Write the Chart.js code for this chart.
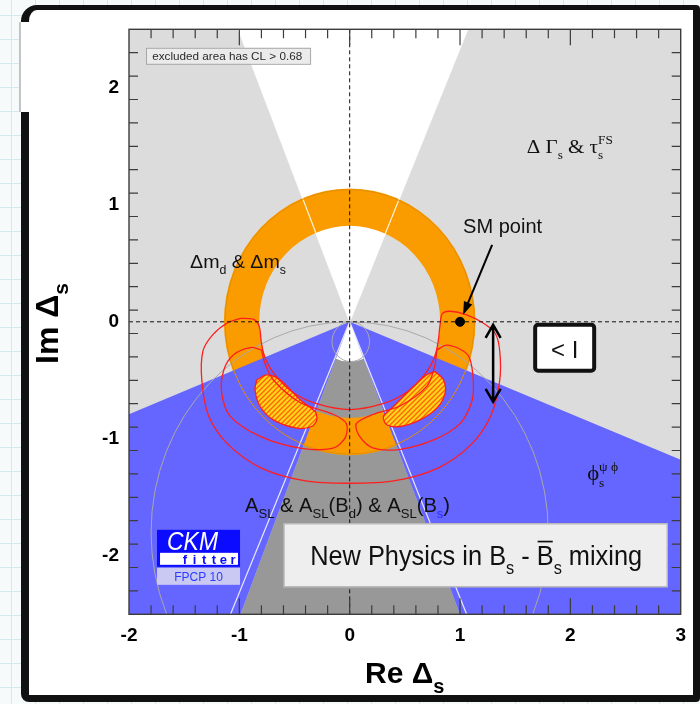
<!DOCTYPE html>
<html>
<head>
<meta charset="utf-8">
<title>New Physics in Bs mixing</title>
<script src="https://cdn.jsdelivr.net/npm/chart.js@4/dist/chart.umd.min.js"></script>
<style>
  html, body { margin: 0; padding: 0; }
  body {
    width: 700px; height: 704px; position: relative; overflow: hidden;
    background-color: #f6fafb;
    background-image: linear-gradient(#d5e8ee 1px, transparent 1px),
                      linear-gradient(90deg, #d5e8ee 1px, transparent 1px);
    background-size: 24px 24px;
    background-position: 0 15px, 11px 0;
  }
  #card {
    position: absolute; left: 21px; top: 5px; width: 664px; height: 685px;
    background: #fff; border-style: solid; border-color: #111;
    border-width: 5px 7px 7px 8px; border-radius: 16px 4px 4px 8px;
  }
  #gap { position: absolute; left: 19px; top: 22px; width: 12px; height: 90px;
         background: #fff; border-left: 2px solid #c4c4c4; }
  canvas { position: absolute; left: 0; top: 0; }
</style>
</head>
<body>
<div id="card"></div>
<div id="gap"></div>
<canvas id="c" width="700" height="704"></canvas>
<script>
// ---- axes ----
const xRange = [-2, 3];
const yRange = [-2.5, 2.5];
const xTickValues = [-2, -1, 0, 1, 2, 3];
const yTickValues = [-2, -1, 0, 1, 2];
const xTickLabels = ['-2', '-1', '0', '1', '2', '3'];
const yTickLabels = ['-2', '-1', '0', '1', '2'];

// ---- constraints (Re, Im) ----
// ΔΓs & τs^FS : allowed double wedge through the origin
const dgWedgeUp = [[0, 0], [-1.01, 2.5], [1.07, 2.5]];
const dgEdges = [[-1.01, 2.5], [1.07, 2.5], [-1.08, -2.5], [1.06, -2.5]];
// A_SL : allowed wedge below the origin, open near the apex
const aslWedge = [[0, 0], [-0.99, -2.5], [1.0, -2.5]];
const aslApex = [[0, 0], [-0.14, -0.31], [-0.07, -0.335], [0, -0.34], [0.07, -0.335], [0.14, -0.31]];
// φs^ψφ : excluded areas
const phiLeft = [[0, 0], [-2, -0.79], [-2, -2.5], [-0.99, -2.5]];
const phiRight = [[0, 0], [1.0, -2.5], [3, -2.5], [3, -1.18]];
// Δm_d & Δm_s : allowed ring
const ringCentre = [0, 0];
const ringRadii = [0.82, 1.14];
const ringEdge = 1.13;
// reference circles
const bigCircle = { c: [0, -1.8], r: 1.8 };
const smallCircle = { c: [0.01, -0.17], r: 0.17 };

// ---- global fit contours ----
const contourOuter = [
  [-0.99, 0.03], [-0.87, 0.02], [-0.82, -0.04], [-0.80, -0.18], [-0.77, -0.30], [-0.68, -0.45],
  [-0.52, -0.60], [-0.30, -0.70], [0, -0.75], [0.30, -0.70], [0.52, -0.60], [0.68, -0.45],
  [0.77, -0.30], [0.80, -0.18], [0.82, -0.02], [0.84, 0.07], [0.91, 0.09], [1.06, 0.06],
  [1.21, -0.01], [1.32, -0.10], [1.36, -0.25], [1.36, -0.50], [1.28, -0.80], [1.10, -1.05],
  [0.80, -1.25], [0.40, -1.36], [0, -1.38], [-0.40, -1.36], [-0.80, -1.25], [-1.10, -1.05],
  [-1.28, -0.80], [-1.34, -0.50], [-1.33, -0.25], [-1.24, -0.11], [-1.11, -0.01]
];
const contourLeft = [
  [-0.80, -0.24], [-0.90, -0.22], [-1.05, -0.28], [-1.14, -0.41], [-1.16, -0.61], [-1.08, -0.81],
  [-0.81, -0.98], [-0.45, -1.08], [-0.15, -1.08], [-0.04, -0.99], [-0.03, -0.87], [-0.15, -0.79],
  [-0.45, -0.69], [-0.69, -0.50], [-0.77, -0.35]
];
const contourRight = [
  [0.79, -0.24], [0.88, -0.20], [1.03, -0.25], [1.09, -0.32], [1.12, -0.50], [1.11, -0.67],
  [1.00, -0.87], [0.76, -1.01], [0.46, -1.09], [0.215, -1.08], [0.09, -0.98], [0.06, -0.87],
  [0.215, -0.79], [0.456, -0.72], [0.70, -0.55], [0.77, -0.38]
];
const blobLeft = [
  [-0.842, -0.496], [-0.752, -0.453], [-0.631, -0.496], [-0.450, -0.667], [-0.314, -0.767],
  [-0.298, -0.838], [-0.344, -0.895], [-0.480, -0.909], [-0.692, -0.838], [-0.812, -0.724],
  [-0.858, -0.581]
];
const blobRight = [
  [0.774, -0.425], [0.850, -0.496], [0.865, -0.609], [0.790, -0.738], [0.638, -0.838],
  [0.457, -0.895], [0.336, -0.880], [0.306, -0.809], [0.396, -0.724], [0.578, -0.553],
  [0.699, -0.453]
];
const smPoint = [1.0, 0.0];

// ---- colours ----
const GREY_LIGHT = '#dcdcdc', GREY_DARK = '#989898', BLUE = '#6565ff',
      ORANGE = '#fa9c00', RED = '#ff1e1e';
const SANS = '"Liberation Sans", Arial, Helvetica, sans-serif';
const SERIF = '"Liberation Serif", "DejaVu Serif", "Times New Roman", serif';

const toPts = a => a.map(([x, y]) => ({ x, y }));
const closed = a => toPts(a.concat([a[0]]));

function tracePoly(ctx, X, Y, pts) {
  ctx.beginPath();
  pts.forEach(([a, b], i) => (i ? ctx.lineTo(X(a), Y(b)) : ctx.moveTo(X(a), Y(b))));
  ctx.closePath();
}

function hatchPattern(ctx) {
  const c = document.createElement('canvas');
  c.width = c.height = 5;
  const g = c.getContext('2d');
  g.fillStyle = '#ffd41c';
  g.fillRect(0, 0, 5, 5);
  g.strokeStyle = '#ff6400';
  g.lineWidth = 1.3;
  g.beginPath();
  g.moveTo(-1, 6); g.lineTo(6, -1);
  g.moveTo(-1, 1); g.lineTo(1, -1);
  g.moveTo(4, 6); g.lineTo(6, 4);
  g.stroke();
  return ctx.createPattern(c, 'repeat');
}

// text with sub/superscripts; parts: [text, kind(0 normal,1 sub,2 sup), colour, keepX, overbar]
function rich(ctx, px, py, parts, o) {
  const subScale = o.subScale || 0.65;
  const font = k => `${o.style || 'normal'} ${o.weight || 'normal'} ${k ? Math.round(o.size * subScale) : o.size}px ${o.family}`;
  let w = 0;
  const items = [];
  for (const [t, k = 0, col, keep, bar] of parts) {
    ctx.font = font(k);
    const mw = ctx.measureText(t).width;
    items.push({ t, k, col, x: w, mw, bar });
    if (!keep) w += mw;
  }
  const sx = o.width ? o.width / w : 1;
  const x0 = o.align === 'center' ? px - (w * sx) / 2 : px;
  ctx.save();
  ctx.translate(x0, py);
  ctx.scale(sx, 1);
  ctx.textBaseline = 'alphabetic';
  ctx.textAlign = 'left';
  for (const it of items) {
    ctx.font = font(it.k);
    ctx.fillStyle = it.col || o.color || '#111';
    const dy = it.k === 1 ? o.size * 0.32 : it.k === 2 ? -o.size * 0.45 : 0;
    ctx.fillText(it.t, it.x, dy);
    if (it.bar) {
      ctx.fillRect(it.x + 1, -o.size * 0.86, it.mw - 2, Math.max(1.5, o.size * 0.06));
    }
  }
  ctx.restore();
}

const regionsPlugin = {
  id: 'regions',
  beforeDatasetsDraw(chart) {
    const { ctx, chartArea: a, scales: { x, y } } = chart;
    const X = v => x.getPixelForValue(v), Y = v => y.getPixelForValue(v);
    const kx = X(1) - X(0), ky = Y(0) - Y(1);
    const fillPoly = (pts, colour) => { tracePoly(ctx, X, Y, pts); ctx.fillStyle = colour; ctx.fill(); };
    ctx.save();
    ctx.beginPath();
    ctx.rect(a.left, a.top, a.right - a.left, a.bottom - a.top);
    ctx.clip();

    ctx.fillStyle = GREY_LIGHT;
    ctx.fillRect(a.left, a.top, a.right - a.left, a.bottom - a.top);
    fillPoly(dgWedgeUp, '#ffffff');
    fillPoly(aslWedge, GREY_DARK);
    fillPoly(aslApex, '#ffffff');

    // Δm ring
    const cx = X(ringCentre[0]), cy = Y(ringCentre[1]);
    ctx.beginPath();
    ctx.ellipse(cx, cy, ringRadii[1] * kx, ringRadii[1] * ky, 0, 0, 2 * Math.PI);
    ctx.moveTo(cx + ringRadii[0] * kx, cy);
    ctx.ellipse(cx, cy, ringRadii[0] * kx, ringRadii[0] * ky, 0, 0, 2 * Math.PI);
    ctx.fillStyle = ORANGE;
    ctx.fill('evenodd');

    fillPoly(phiLeft, BLUE);
    fillPoly(phiRight, BLUE);

    // edges of the ΔΓs wedge
    ctx.strokeStyle = 'rgba(255,255,255,0.85)';
    ctx.lineWidth = 1.2;
    for (const [ex, ey] of dgEdges) {
      ctx.beginPath(); ctx.moveTo(X(0), Y(0)); ctx.lineTo(X(ex), Y(ey)); ctx.stroke();
    }

    const ring = (c, r, colour, w) => {
      ctx.beginPath();
      ctx.ellipse(X(c[0]), Y(c[1]), r * kx, r * ky, 0, 0, 2 * Math.PI);
      ctx.strokeStyle = colour; ctx.lineWidth = w; ctx.stroke();
    };
    ring(bigCircle.c, bigCircle.r, '#a9a9a9', 1);
    ring(smallCircle.c, smallCircle.r, '#a9a9a9', 1);
    ring(ringCentre, ringEdge, '#e38d00', 1);

    // hatched 68% areas, filled along the same smoothed path as their outline
    const pat = hatchPattern(ctx);
    chart.data.datasets.forEach((ds, i) => {
      if (!ds.hatched) return;
      const el = chart.getDatasetMeta(i).dataset;
      ctx.beginPath();
      el.path(ctx);
      ctx.closePath();
      ctx.fillStyle = pat;
      ctx.fill();
    });
    ctx.restore();
  }
};

const decorPlugin = {
  id: 'decor',
  afterDraw(chart) {
    const { ctx, chartArea: a, scales: { x, y } } = chart;
    const X = v => x.getPixelForValue(v), Y = v => y.getPixelForValue(v);
    ctx.save();

    // frame and inward ticks on all four sides
    ctx.strokeStyle = '#3c3c3c';
    ctx.lineWidth = 1.4;
    ctx.strokeRect(a.left, a.top, a.right - a.left, a.bottom - a.top);
    ctx.lineWidth = 1.2;
    ctx.beginPath();
    for (let i = xRange[0] * 5 + 1; i < xRange[1] * 5; i++) {
      const px = X(i / 5), len = i % 5 === 0 ? 16 : 9;
      ctx.moveTo(px, a.bottom); ctx.lineTo(px, a.bottom - len);
      ctx.moveTo(px, a.top); ctx.lineTo(px, a.top + len);
    }
    for (let i = yRange[0] * 5 + 1; i < yRange[1] * 5; i++) {
      const py = Y(i / 5), len = i % 5 === 0 ? 16 : 9;
      ctx.moveTo(a.left, py); ctx.lineTo(a.left + len, py);
      ctx.moveTo(a.right, py); ctx.lineTo(a.right - len, py);
    }
    ctx.stroke();

    // legend note
    ctx.fillStyle = '#ebebeb';
    ctx.strokeStyle = '#a8a8a8';
    ctx.lineWidth = 1;
    const bx0 = X(-1.846), bx1 = X(-0.359), by0 = Y(2.342), by1 = Y(2.205);
    ctx.fillRect(bx0, by0, bx1 - bx0, by1 - by0);
    ctx.strokeRect(bx0 + 0.5, by0 + 0.5, bx1 - bx0, by1 - by0);
    rich(ctx, X(-1.79), Y(2.236), [['excluded area has CL > 0.68']], { size: 11, family: SANS, color: '#2a2a2a', width: 150 });

    // constraint labels
    rich(ctx, X(-1.447), Y(0.459), [['Δm'], ['d', 1], [' & Δm'], ['s', 1]],
         { size: 19, family: SANS, color: '#111', width: 96 });
    rich(ctx, X(1.605), Y(1.447), [['Δ Γ'], ['s', 1], [' & τ'], ['s', 1, null, true], ['FS', 2]],
         { size: 19, family: SERIF, color: '#111', subScale: 0.62, width: 86 });
    rich(ctx, X(2.152), Y(-1.355), [['ϕ'], ['s', 1, null, true], ['ψ ϕ', 2]],
         { size: 20, family: SERIF, color: '#111', subScale: 0.6, width: 31 });
    rich(ctx, X(-0.948), Y(-1.624),
         [['A'], ['SL', 1], [' & A'], ['SL', 1], ['(B'], ['d', 1], [') & A'], ['SL', 1], ['(B'], ['s', 1, '#2a2aff'], [')']],
         { size: 20, family: SANS, color: '#111', width: 205 });

    // SM point label and arrow
    rich(ctx, X(1.028), Y(0.758), [['SM point']], { size: 20, family: SANS, color: '#111', width: 79 });
    const ax0 = X(1.291), ay0 = Y(0.658), ax1 = X(1.028), ay1 = Y(0.06);
    const ang = Math.atan2(ay1 - ay0, ax1 - ax0);
    ctx.strokeStyle = '#000';
    ctx.fillStyle = '#000';
    ctx.lineWidth = 2;
    ctx.beginPath();
    ctx.moveTo(ax0, ay0);
    ctx.lineTo(ax1 - 8 * Math.cos(ang), ay1 - 8 * Math.sin(ang));
    ctx.stroke();
    ctx.beginPath();
    ctx.moveTo(ax1, ay1);
    ctx.lineTo(ax1 - 13 * Math.cos(ang) + 4.5 * Math.sin(ang), ay1 - 13 * Math.sin(ang) - 4.5 * Math.cos(ang));
    ctx.lineTo(ax1 - 13 * Math.cos(ang) - 4.5 * Math.sin(ang), ay1 - 13 * Math.sin(ang) + 4.5 * Math.cos(ang));
    ctx.closePath();
    ctx.fill();

    // vertical double arrow next to the SM point
    const dx = X(1.30), dTop = Y(-0.026), dBot = Y(-0.684);
    ctx.lineWidth = 2.5;
    ctx.lineJoin = 'miter';
    ctx.beginPath();
    ctx.moveTo(dx, dTop); ctx.lineTo(dx, dBot);
    ctx.moveTo(dx - 7.5, dTop + 13); ctx.lineTo(dx, dTop); ctx.lineTo(dx + 7.5, dTop + 13);
    ctx.moveTo(dx - 7.5, dBot - 13); ctx.lineTo(dx, dBot); ctx.lineTo(dx + 7.5, dBot - 13);
    ctx.stroke();

    // boxed "< I"
    const qx0 = X(1.663), qx1 = X(2.234), qy0 = Y(-0.009), qy1 = Y(-0.436);
    ctx.fillStyle = '#fff';
    ctx.strokeStyle = '#111';
    ctx.lineWidth = 4;
    ctx.beginPath();
    ctx.roundRect(qx0 + 2, qy0 + 2, qx1 - qx0 - 4, qy1 - qy0 - 4, 3);
    ctx.fill();
    ctx.stroke();
    rich(ctx, (qx0 + qx1) / 2, qy0 + 35, [['< I']], { size: 24, family: SANS, color: '#111', align: 'center' });

    // title box
    const tx0 = X(-0.595), tx1 = X(2.878), ty0 = Y(-1.726), ty1 = Y(-2.265);
    ctx.fillStyle = '#eeeeee';
    ctx.strokeStyle = '#b9b9b9';
    ctx.lineWidth = 1.5;
    ctx.fillRect(tx0, ty0, tx1 - tx0, ty1 - ty0);
    ctx.strokeRect(tx0, ty0, tx1 - tx0, ty1 - ty0);
    rich(ctx, (tx0 + tx1) / 2 + 0.5, Y(-2.077),
         [['New Physics in B'], ['s', 1], [' - '], ['B', 0, null, false, true], ['s', 1], [' mixing']],
         { size: 28, family: SANS, color: '#111', align: 'center', width: 332 });

    // CKMfitter logo
    const lx = X(-1.746), ly = Y(-1.778);
    ctx.fillStyle = '#0b0bff';
    ctx.fillRect(lx, ly, 83, 37);
    ctx.fillStyle = '#ffffff';
    ctx.fillRect(lx + 3, ly + 23, 78, 12);
    rich(ctx, lx + 10, ly + 20.5, [['CKM']], { size: 25, family: SANS, style: 'italic', color: '#ffffff', width: 51 });
    ctx.fillStyle = '#0b0bff';
    ctx.font = `bold 13px ${SANS}`;
    ctx.textAlign = 'center';
    ctx.textBaseline = 'alphabetic';
    ['f', 'i', 't', 't', 'e', 'r'].forEach((ch, i) => ctx.fillText(ch, lx + 28 + i * 9.6, ly + 34));
    ctx.fillStyle = '#c9c9f3';
    ctx.fillRect(lx, ly + 38, 83, 17);
    ctx.fillStyle = '#2a3cff';
    ctx.font = `12px ${SANS}`;
    ctx.fillText('FPCP 10', lx + 41.5, ly + 51.5);

    // axis titles
    ctx.fillStyle = '#000';
    rich(ctx, 365, 683, [['Re Δ'], ['s', 1]], { size: 30, family: SANS, weight: 'bold', color: '#000', subScale: 0.68 });
    ctx.save();
    ctx.translate(58, 364);
    ctx.rotate(-Math.PI / 2);
    rich(ctx, 0, 0, [['Im Δ'], ['s', 1]], { size: 32, family: SANS, weight: 'bold', color: '#000', subScale: 0.66 });
    ctx.restore();

    ctx.restore();
  }
};

const redLine = (pts, hatched) => ({
  data: closed(pts), showLine: true, borderColor: RED, borderWidth: 1.3,
  pointRadius: 0, fill: false, tension: 0.3, hatched
});

new Chart(document.getElementById('c'), {
  type: 'scatter',
  data: {
    datasets: [
      { data: toPts([smPoint]), pointRadius: 4.5, pointBackgroundColor: '#000', pointBorderColor: '#000', showLine: false },
      { data: toPts([[xRange[0], 0], [xRange[1], 0]]), showLine: true, borderColor: '#111', borderWidth: 1, borderDash: [4, 3], pointRadius: 0 },
      { data: toPts([[0, yRange[0]], [0, yRange[1]]]), showLine: true, borderColor: '#111', borderWidth: 1, borderDash: [4, 3], pointRadius: 0 },
      redLine(blobLeft, true),
      redLine(blobRight, true),
      redLine(contourLeft),
      redLine(contourRight),
      redLine(contourOuter)
    ]
  },
  options: {
    responsive: false,
    animation: false,
    devicePixelRatio: 1,
    events: [],
    layout: { padding: { left: 0, top: 29.3, right: 19.3, bottom: 0 } },
    plugins: { legend: { display: false }, tooltip: { enabled: false } },
    scales: {
      x: {
        type: 'linear', min: xRange[0], max: xRange[1],
        afterBuildTicks: s => { s.ticks = xTickValues.map(v => ({ value: v })); },
        afterFit: s => { s.height = 89.7; },
        grid: { display: false, drawTicks: false },
        border: { display: false },
        ticks: {
          padding: 10, color: '#000', autoSkip: false, maxRotation: 0,
          font: { family: SANS, size: 19, weight: 'bold' },
          callback: v => xTickLabels[xTickValues.indexOf(v)]
        }
      },
      y: {
        type: 'linear', min: yRange[0], max: yRange[1],
        afterBuildTicks: s => { s.ticks = yTickValues.map(v => ({ value: v })); },
        afterFit: s => { s.width = 129; },
        grid: { display: false, drawTicks: false },
        border: { display: false },
        ticks: {
          padding: 10, color: '#000', autoSkip: false,
          font: { family: SANS, size: 19, weight: 'bold' },
          callback: v => yTickLabels[yTickValues.indexOf(v)]
        }
      }
    }
  },
  plugins: [regionsPlugin, decorPlugin]
});
</script>
</body>
</html>
